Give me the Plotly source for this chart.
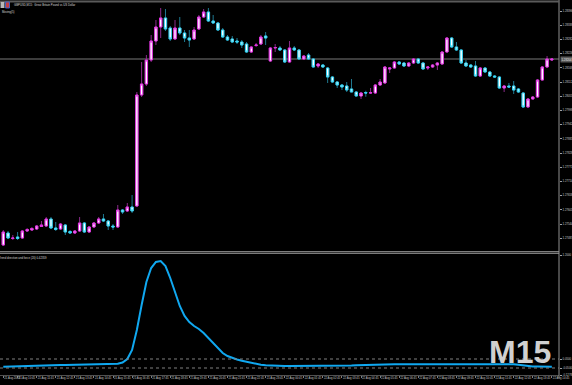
import plotly.graph_objects as go

# ---------------- data ----------------
OPEN = [1.27460, 1.27508, 1.27486, 1.27492, 1.27488, 1.27516, 1.27520, 1.27524, 1.27534, 1.27536,
        1.27564, 1.27528, 1.27524, 1.27540, 1.27514, 1.27508, 1.27516, 1.27548, 1.27512, 1.27532,
        1.27548, 1.27564, 1.27556, 1.27536, 1.27532, 1.27600, 1.27596, 1.27612, 1.27616, 1.28060,
        1.28104, 1.28200, 1.28276, 1.28332, 1.28368, 1.28328, 1.28284, 1.28328, 1.28308, 1.28288,
        1.28284, 1.28324, 1.28372, 1.28392, 1.28356, 1.28348, 1.28320, 1.28292, 1.28284, 1.28276,
        1.28272, 1.28264, 1.28232, 1.28258, 1.28264, 1.28296, 1.28196, 1.28248, 1.28248, 1.28240,
        1.28192, 1.28248, 1.28240, 1.28204, 1.28220, 1.28204, 1.28176, 1.28180, 1.28168, 1.28132,
        1.28112, 1.28100, 1.28096, 1.28084, 1.28072, 1.28056, 1.28070, 1.28068, 1.28068, 1.28100,
        1.28108, 1.28164, 1.28168, 1.28192, 1.28188, 1.28176, 1.28188, 1.28204, 1.28188, 1.28168,
        1.28172, 1.28180, 1.28184, 1.28232, 1.28288, 1.28252, 1.28240, 1.28188, 1.28180, 1.28176,
        1.28136, 1.28168, 1.28152, 1.28136, 1.28132, 1.28088, 1.28096, 1.28096, 1.28084, 1.28068,
        1.28012, 1.28044, 1.28052, 1.28120, 1.28172, 1.28200]
HIGH = [1.27520, 1.27516, 1.27500, 1.27512, 1.27520, 1.27528, 1.27532, 1.27540, 1.27556, 1.27572,
        1.27572, 1.27552, 1.27548, 1.27544, 1.27520, 1.27520, 1.27572, 1.27552, 1.27536, 1.27552,
        1.27572, 1.27584, 1.27560, 1.27544, 1.27620, 1.27604, 1.27628, 1.27660, 1.28072, 1.28192,
        1.28220, 1.28300, 1.28360, 1.28408, 1.28404, 1.28336, 1.28360, 1.28372, 1.28320, 1.28320,
        1.28332, 1.28380, 1.28404, 1.28408, 1.28380, 1.28352, 1.28328, 1.28300, 1.28296, 1.28288,
        1.28280, 1.28272, 1.28256, 1.28268, 1.28300, 1.28312, 1.28252, 1.28264, 1.28256, 1.28244,
        1.28276, 1.28256, 1.28244, 1.28220, 1.28228, 1.28208, 1.28188, 1.28184, 1.28172, 1.28136,
        1.28116, 1.28104, 1.28112, 1.28124, 1.28076, 1.28072, 1.28077, 1.28088, 1.28104, 1.28124,
        1.28176, 1.28172, 1.28196, 1.28196, 1.28192, 1.28192, 1.28208, 1.28208, 1.28192, 1.28176,
        1.28184, 1.28192, 1.28236, 1.28292, 1.28292, 1.28272, 1.28244, 1.28200, 1.28184, 1.28196,
        1.28172, 1.28172, 1.28156, 1.28140, 1.28136, 1.28100, 1.28108, 1.28116, 1.28088, 1.28072,
        1.28048, 1.28056, 1.28124, 1.28176, 1.28216, 1.28208]
LOW = [1.27456, 1.27484, 1.27480, 1.27480, 1.27484, 1.27512, 1.27516, 1.27520, 1.27532, 1.27532,
       1.27524, 1.27516, 1.27520, 1.27500, 1.27504, 1.27504, 1.27512, 1.27508, 1.27508, 1.27528,
       1.27544, 1.27552, 1.27520, 1.27520, 1.27528, 1.27584, 1.27592, 1.27588, 1.27612, 1.28052,
       1.28096, 1.28192, 1.28260, 1.28288, 1.28316, 1.28276, 1.28280, 1.28300, 1.28272, 1.28252,
       1.28280, 1.28320, 1.28368, 1.28352, 1.28344, 1.28316, 1.28288, 1.28276, 1.28268, 1.28264,
       1.28248, 1.28228, 1.28228, 1.28252, 1.28260, 1.28260, 1.28192, 1.28232, 1.28236, 1.28188,
       1.28190, 1.28236, 1.28200, 1.28200, 1.28200, 1.28170, 1.28168, 1.28168, 1.28108, 1.28108,
       1.28088, 1.28080, 1.28072, 1.28072, 1.28054, 1.28044, 1.28053, 1.28064, 1.28064, 1.28096,
       1.28106, 1.28148, 1.28166, 1.28180, 1.28172, 1.28172, 1.28184, 1.28184, 1.28162, 1.28160,
       1.28168, 1.28160, 1.28180, 1.28230, 1.28248, 1.28236, 1.28184, 1.28172, 1.28168, 1.28132,
       1.28132, 1.28150, 1.28132, 1.28130, 1.28084, 1.28072, 1.28088, 1.28064, 1.28068, 1.28008,
       1.28008, 1.28042, 1.28048, 1.28118, 1.28168, 1.28196]
CLOSE = [1.27512, 1.27488, 1.27488, 1.27486, 1.27516, 1.27522, 1.27526, 1.27536, 1.27540, 1.27564,
         1.27528, 1.27522, 1.27544, 1.27512, 1.27508, 1.27516, 1.27548, 1.27512, 1.27532, 1.27548,
         1.27564, 1.27556, 1.27536, 1.27532, 1.27600, 1.27592, 1.27612, 1.27596, 1.28060, 1.28104,
         1.28200, 1.28276, 1.28332, 1.28368, 1.28324, 1.28284, 1.28328, 1.28308, 1.28288, 1.28280,
         1.28320, 1.28372, 1.28392, 1.28356, 1.28348, 1.28320, 1.28292, 1.28280, 1.28272, 1.28272,
         1.28260, 1.28232, 1.28252, 1.28260, 1.28292, 1.28288, 1.28248, 1.28250, 1.28240, 1.28192,
         1.28248, 1.28240, 1.28204, 1.28216, 1.28204, 1.28172, 1.28184, 1.28172, 1.28132, 1.28112,
         1.28100, 1.28092, 1.28080, 1.28072, 1.28056, 1.28068, 1.28068, 1.28069, 1.28100, 1.28112,
         1.28172, 1.28168, 1.28192, 1.28184, 1.28176, 1.28188, 1.28204, 1.28188, 1.28164, 1.28172,
         1.28180, 1.28188, 1.28232, 1.28288, 1.28252, 1.28240, 1.28188, 1.28176, 1.28172, 1.28136,
         1.28168, 1.28152, 1.28136, 1.28132, 1.28088, 1.28096, 1.28092, 1.28080, 1.28072, 1.28012,
         1.28044, 1.28052, 1.28120, 1.28172, 1.28204, 1.28204]

TDF = [-0.0356, -0.0333, -0.0311, -0.0289, -0.0278, -0.0256, -0.0244, -0.0233, -0.0222, -0.0200,
       -0.0189, -0.0178, -0.0167, -0.0156, -0.0144, -0.0133, -0.0122, -0.0111, -0.0100, -0.0089,
       -0.0078, -0.0067, -0.0056, -0.0056, -0.0033, 0.0111, 0.0500, 0.1500, 0.3720, 0.6500,
       0.9060, 1.0610, 1.1280, 1.1390, 1.0830, 0.9500, 0.7830, 0.6390, 0.5280, 0.4610,
       0.4170, 0.3830, 0.3390, 0.2830, 0.2170, 0.1610, 0.1170, 0.0830, 0.0610, 0.0440,
       0.0300, 0.0170, 0.0060, -0.0060, -0.0140, -0.0200, -0.0240, -0.0280, -0.0280, -0.0280,
       -0.0280, -0.0280, -0.0280, -0.0280, -0.0280, -0.0280, -0.0280, -0.0280, -0.0280, -0.0280,
       -0.0280, -0.0256, -0.0233, -0.0211, -0.0189, -0.0167, -0.0156, -0.0144, -0.0133, -0.0122,
       -0.0111, -0.0100, -0.0089, -0.0078, -0.0078, -0.0078, -0.0078, -0.0078, -0.0078, -0.0056,
       -0.0056, -0.0056, -0.0056, -0.0056, -0.0056, -0.0056, -0.0056, -0.0056, -0.0056, -0.0056,
       -0.0056, -0.0056, -0.0056, -0.0056, -0.0056, -0.0056, -0.0056, -0.0078, -0.0144, -0.0222,
       -0.0289, -0.0333, -0.0344, -0.0356, -0.0356, -0.0356]
TDF_LEVELS = [0.05, -0.05]

BARS = list(range(len(OPEN)))

X_TICK_BARS = [0, 3, 7, 11, 15, 19, 23, 27, 31, 35, 39, 43, 47, 51, 55, 59, 63, 67, 71, 75,
               79, 83, 87, 91, 95, 99, 103, 107, 111, 115]
X_TICK_LABELS = ["21 Aug 2023", "21 Aug 10:45", "21 Aug 11:45", "21 Aug 12:45", "21 Aug 13:45",
                 "21 Aug 14:45", "21 Aug 15:45", "21 Aug 16:45", "21 Aug 17:45", "21 Aug 18:45",
                 "21 Aug 19:45", "21 Aug 20:45", "21 Aug 21:45", "21 Aug 22:45", "21 Aug 23:45",
                 "22 Aug 00:45", "22 Aug 01:45", "22 Aug 02:45", "22 Aug 03:45", "22 Aug 04:45",
                 "22 Aug 05:45", "22 Aug 06:45", "22 Aug 07:45", "22 Aug 08:45", "22 Aug 09:45",
                 "22 Aug 10:45", "22 Aug 11:45", "22 Aug 12:45", "22 Aug 13:45", "22 Aug 14:45"]
PRICE_TICKS = [1.28396, 1.28339, 1.28282, 1.28226, 1.28169, 1.28112, 1.28055, 1.27998, 1.27942,
               1.27885, 1.27828, 1.27771, 1.27714, 1.27658, 1.27601, 1.27544, 1.27487]
TDF_TICKS = [1.2000, 0.0500, -0.0500, -0.1278]
TDF_TICK_LABELS = ["1.2000", "0.0500", "-0.0500", "-0.1278"]

TITLE = "GBPUSD,M15:  Great Britain Pound vs US Dollar"
SUBTITLE = "Moving(5)"
IND_TITLE = "Trend direction and force (20) 0.42359"
WATERMARK = "M15"

# ---------------- styling ----------------
W, H = 572, 385
R_MARGIN = 13
PW = W - R_MARGIN
BULL, BEAR = "#e030e0", "#30d0f0"
BULL_WICK, BEAR_WICK = "#8a2a8a", "#1f7890"
TXT = "#c8c8c8"
FS = 2.8
FONT = "Liberation Sans, Arial, sans-serif"


def py(px):  # pixel row -> paper y
    return 1 - px / H


fig = go.Figure()

# wick layer (full range, dark colours)
fig.add_trace(go.Candlestick(
    x=BARS, open=OPEN, high=HIGH, low=LOW, close=CLOSE,
    increasing=dict(line=dict(color=BULL_WICK, width=1), fillcolor="white"),
    decreasing=dict(line=dict(color=BEAR_WICK, width=1), fillcolor="white"),
    whiskerwidth=0, hoverinfo="skip", showlegend=False, xaxis="x", yaxis="y"))
# body layer (bright outlines)
body_hi = [max(o, c) for o, c in zip(OPEN, CLOSE)]
body_lo = [min(o, c) for o, c in zip(OPEN, CLOSE)]
fig.add_trace(go.Candlestick(
    x=BARS, open=OPEN, high=body_hi, low=body_lo, close=CLOSE,
    increasing=dict(line=dict(color=BULL, width=1), fillcolor="white"),
    decreasing=dict(line=dict(color=BEAR, width=1), fillcolor="white"),
    whiskerwidth=0, hoverinfo="skip", showlegend=False, xaxis="x", yaxis="y"))

fig.add_trace(go.Scatter(
    x=BARS, y=TDF, mode="lines", line=dict(color="#10a8f0", width=2),
    hoverinfo="skip", showlegend=False, xaxis="x2", yaxis="y2"))

xr = [-0.69, 116.5]
main_dom = [py(251), py(2)]
ind_dom = [py(375), py(254)]

fig.update_layout(
    width=W, height=H, margin=dict(l=0, r=R_MARGIN, t=0, b=0, autoexpand=False),
    paper_bgcolor="black", plot_bgcolor="black",
    font=dict(family=FONT, size=FS, color=TXT),
    boxgap=0.3,
    xaxis=dict(domain=[0, 1], anchor="y", range=xr, showticklabels=False,
               showgrid=False, zeroline=False, rangeslider=dict(visible=False),
               fixedrange=True, automargin=False),
    yaxis=dict(domain=main_dom, range=[1.27436, 1.28432], side="right",
               tickvals=PRICE_TICKS, ticktext=[f"{v:.5f}" for v in PRICE_TICKS],
               tickfont=dict(size=FS, color=TXT, family=FONT), ticks="outside",
               ticklen=2, tickcolor="#a0a0a0", showgrid=False, zeroline=False,
               automargin=False),
    xaxis2=dict(domain=[0, 1], anchor="y2", range=xr, tickvals=X_TICK_BARS,
                ticktext=X_TICK_LABELS, tickfont=dict(size=FS, color=TXT, family=FONT),
                tickangle=0, ticks="outside", ticklen=2, tickcolor="#808080",
                ticklabelposition="outside right", showgrid=False, zeroline=False,
                showline=True, linecolor="#505050", linewidth=1, automargin=False),
    yaxis2=dict(domain=ind_dom, range=[-0.1278, 1.2167], side="right",
                tickvals=TDF_TICKS, ticktext=TDF_TICK_LABELS,
                tickfont=dict(size=FS, color=TXT, family=FONT), ticks="outside",
                ticklen=2, tickcolor="#a0a0a0", showgrid=False, zeroline=False,
                automargin=False),
)

shapes = [
    # right price-scale border
    dict(type="line", xref="paper", yref="paper", x0=1, x1=1, y0=py(378), y1=1,
         line=dict(color="#909090", width=1)),
    # top border
    dict(type="line", xref="paper", yref="paper", x0=0, x1=1, y0=py(1.5), y1=py(1.5),
         line=dict(color="#5a5a5a", width=2)),
    # pane separator
    dict(type="line", xref="paper", yref="paper", x0=0, x1=1, y0=py(251.7), y1=py(251.7),
         line=dict(color="#9a9a9a", width=1)),
    dict(type="line", xref="paper", yref="paper", x0=0, x1=1, y0=py(253.3), y1=py(253.3),
         line=dict(color="#9a9a9a", width=1)),
    # bid line
    dict(type="line", xref="paper", yref="y", x0=0, x1=1, y0=CLOSE[-1], y1=CLOSE[-1],
         line=dict(color="#3c3c3c", width=2), layer="below"),
    # window icons
    dict(type="rect", xref="paper", yref="paper", x0=0.5 / PW, x1=4.5 / PW, y0=py(8), y1=py(2),
         fillcolor="#b8b8b8", line=dict(width=0)),
    dict(type="rect", xref="paper", yref="paper", x0=5.5 / PW, x1=9.5 / PW, y0=py(8), y1=py(2),
         fillcolor="#c84040", line=dict(color="#4060c0", width=1)),
]
for lv in TDF_LEVELS:
    shapes.append(dict(type="line", xref="paper", yref="y2", x0=0, x1=1, y0=lv, y1=lv,
                       line=dict(color="#808080", width=1, dash="dot")))
fig.update_layout(shapes=shapes)

annotations = [
    dict(text=TITLE, xref="paper", yref="paper", x=12 / PW, y=py(5), xanchor="left",
         yanchor="middle", showarrow=False, font=dict(size=FS, color="#d8d8d8", family=FONT)),
    dict(text=SUBTITLE, xref="paper", yref="paper", x=0, y=py(12), xanchor="left",
         yanchor="middle", showarrow=False, font=dict(size=FS, color="#d8d8d8", family=FONT)),
    dict(text=IND_TITLE, xref="paper", yref="paper", x=0, y=py(258), xanchor="left",
         xshift=-3, yanchor="middle", showarrow=False,
         font=dict(size=FS, color="#d8d8d8", family=FONT)),
    dict(text=WATERMARK, xref="paper", yref="paper", x=553 / PW, y=py(352), xanchor="right",
         yanchor="middle", showarrow=False,
         font=dict(size=32, color="#d0d0d0", family="Liberation Sans, Arial, sans-serif",
                   weight="bold")),
    dict(text=f"{CLOSE[-1]:.5f}", xref="paper", yref="y", x=1, y=CLOSE[-1], xanchor="left",
         xshift=1, yanchor="middle", showarrow=False, bgcolor="#5a5a5a", borderpad=0.5,
         font=dict(size=FS, color="#e8e8e8", family=FONT)),
]
fig.update_layout(annotations=annotations)

fig.write_html("out.html")
